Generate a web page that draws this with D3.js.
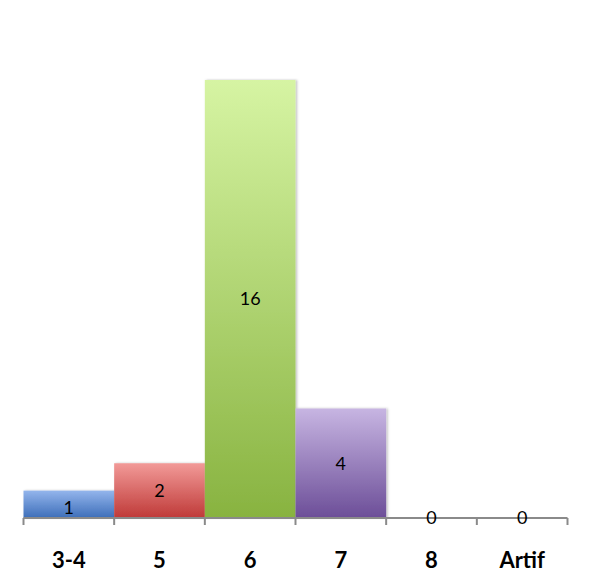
<!DOCTYPE html>
<html>
<head>
<meta charset="utf-8">
<script src="https://cdn.jsdelivr.net/npm/d3@7"></script>
<style>
  html, body { margin: 0; padding: 0; background: #fff; }
  svg { display: block; }
</style>
</head>
<body>
<script>
const categories = ["3-4", "5", "6", "7", "8", "Artif"];
const counts = [1, 2, 16, 4, 0, 0];
const topColors = ["#93b5ec", "#f29a98", "#d6f4a3", "#c7b5e2", "#cccccc", "#cccccc"];
const bottomColors = ["#3d6eb9", "#bf3a38", "#88b340", "#6c4e98", "#888888", "#888888"];

const width = 592, height = 588;
const x0 = 23.5, x1 = 567.5, baseY = 518, topY = 80;

const svg = d3.select("body").append("svg")
  .attr("width", width).attr("height", height);

const x = d3.scaleBand().domain(categories).range([x0, x1]).padding(0);
const y = d3.scaleLinear().domain([0, 16]).range([baseY, topY]);

const defs = svg.append("defs");
categories.forEach((c, i) => {
  const g = defs.append("linearGradient")
    .attr("id", "grad" + i).attr("x1", 0).attr("y1", 0).attr("x2", 0).attr("y2", 1);
  g.append("stop").attr("offset", "0%").attr("stop-color", topColors[i]);
  g.append("stop").attr("offset", "100%").attr("stop-color", bottomColors[i]);
});
const f = defs.append("filter").attr("id", "shadow")
  .attr("x", "-10%").attr("y", "-10%").attr("width", "130%").attr("height", "130%");
f.append("feDropShadow").attr("dx", 1.5).attr("dy", 0).attr("stdDeviation", 1.2)
  .attr("flood-color", "#000").attr("flood-opacity", 0.25);

const data = categories.map((c, i) => ({ cat: c, value: counts[i], i }));

svg.append("g").selectAll("rect")
  .data(data.filter(d => d.value > 0))
  .join("rect")
  .attr("x", d => x(d.cat))
  .attr("y", d => y(d.value))
  .attr("width", x.bandwidth())
  .attr("height", d => y(0) - y(d.value))
  .attr("fill", d => `url(#grad${d.i})`)
  .attr("filter", "url(#shadow)");

// axis line and tick marks at category boundaries
const axis = svg.append("g").attr("stroke", "#8a8a8a").attr("stroke-width", 2);
axis.append("line").attr("x1", x0).attr("x2", x1).attr("y1", baseY).attr("y2", baseY);
const edges = categories.map(c => x(c)).concat([x1]);
axis.selectAll("line.tick").data(edges).join("line")
  .attr("class", "tick")
  .attr("x1", d => d).attr("x2", d => d)
  .attr("y1", baseY).attr("y2", baseY + 7);

// value labels
svg.append("g").selectAll("text")
  .data(data)
  .join("text")
  .attr("x", d => x(d.cat) + x.bandwidth() / 2)
  .attr("y", d => d.value > 0 ? (y(d.value) + y(0)) / 2 : y(0))
  .attr("dy", d => d.value === 1 ? "0.55em" : "0.35em")
  .attr("text-anchor", "middle")
  .attr("font-family", "Lato, sans-serif")
  .attr("font-size", 18)
  .attr("fill", "#000")
  .text(d => d.value);

// category labels
svg.append("g").selectAll("text")
  .data(categories)
  .join("text")
  .attr("x", d => x(d) + x.bandwidth() / 2)
  .attr("y", 560)
  .attr("dy", "0.35em")
  .attr("text-anchor", "middle")
  .attr("font-family", "Lato, sans-serif")
  .attr("font-weight", "bold")
  .attr("font-size", 22)
  .attr("fill", "#000")
  .text(d => d);
</script>
</body>
</html>
